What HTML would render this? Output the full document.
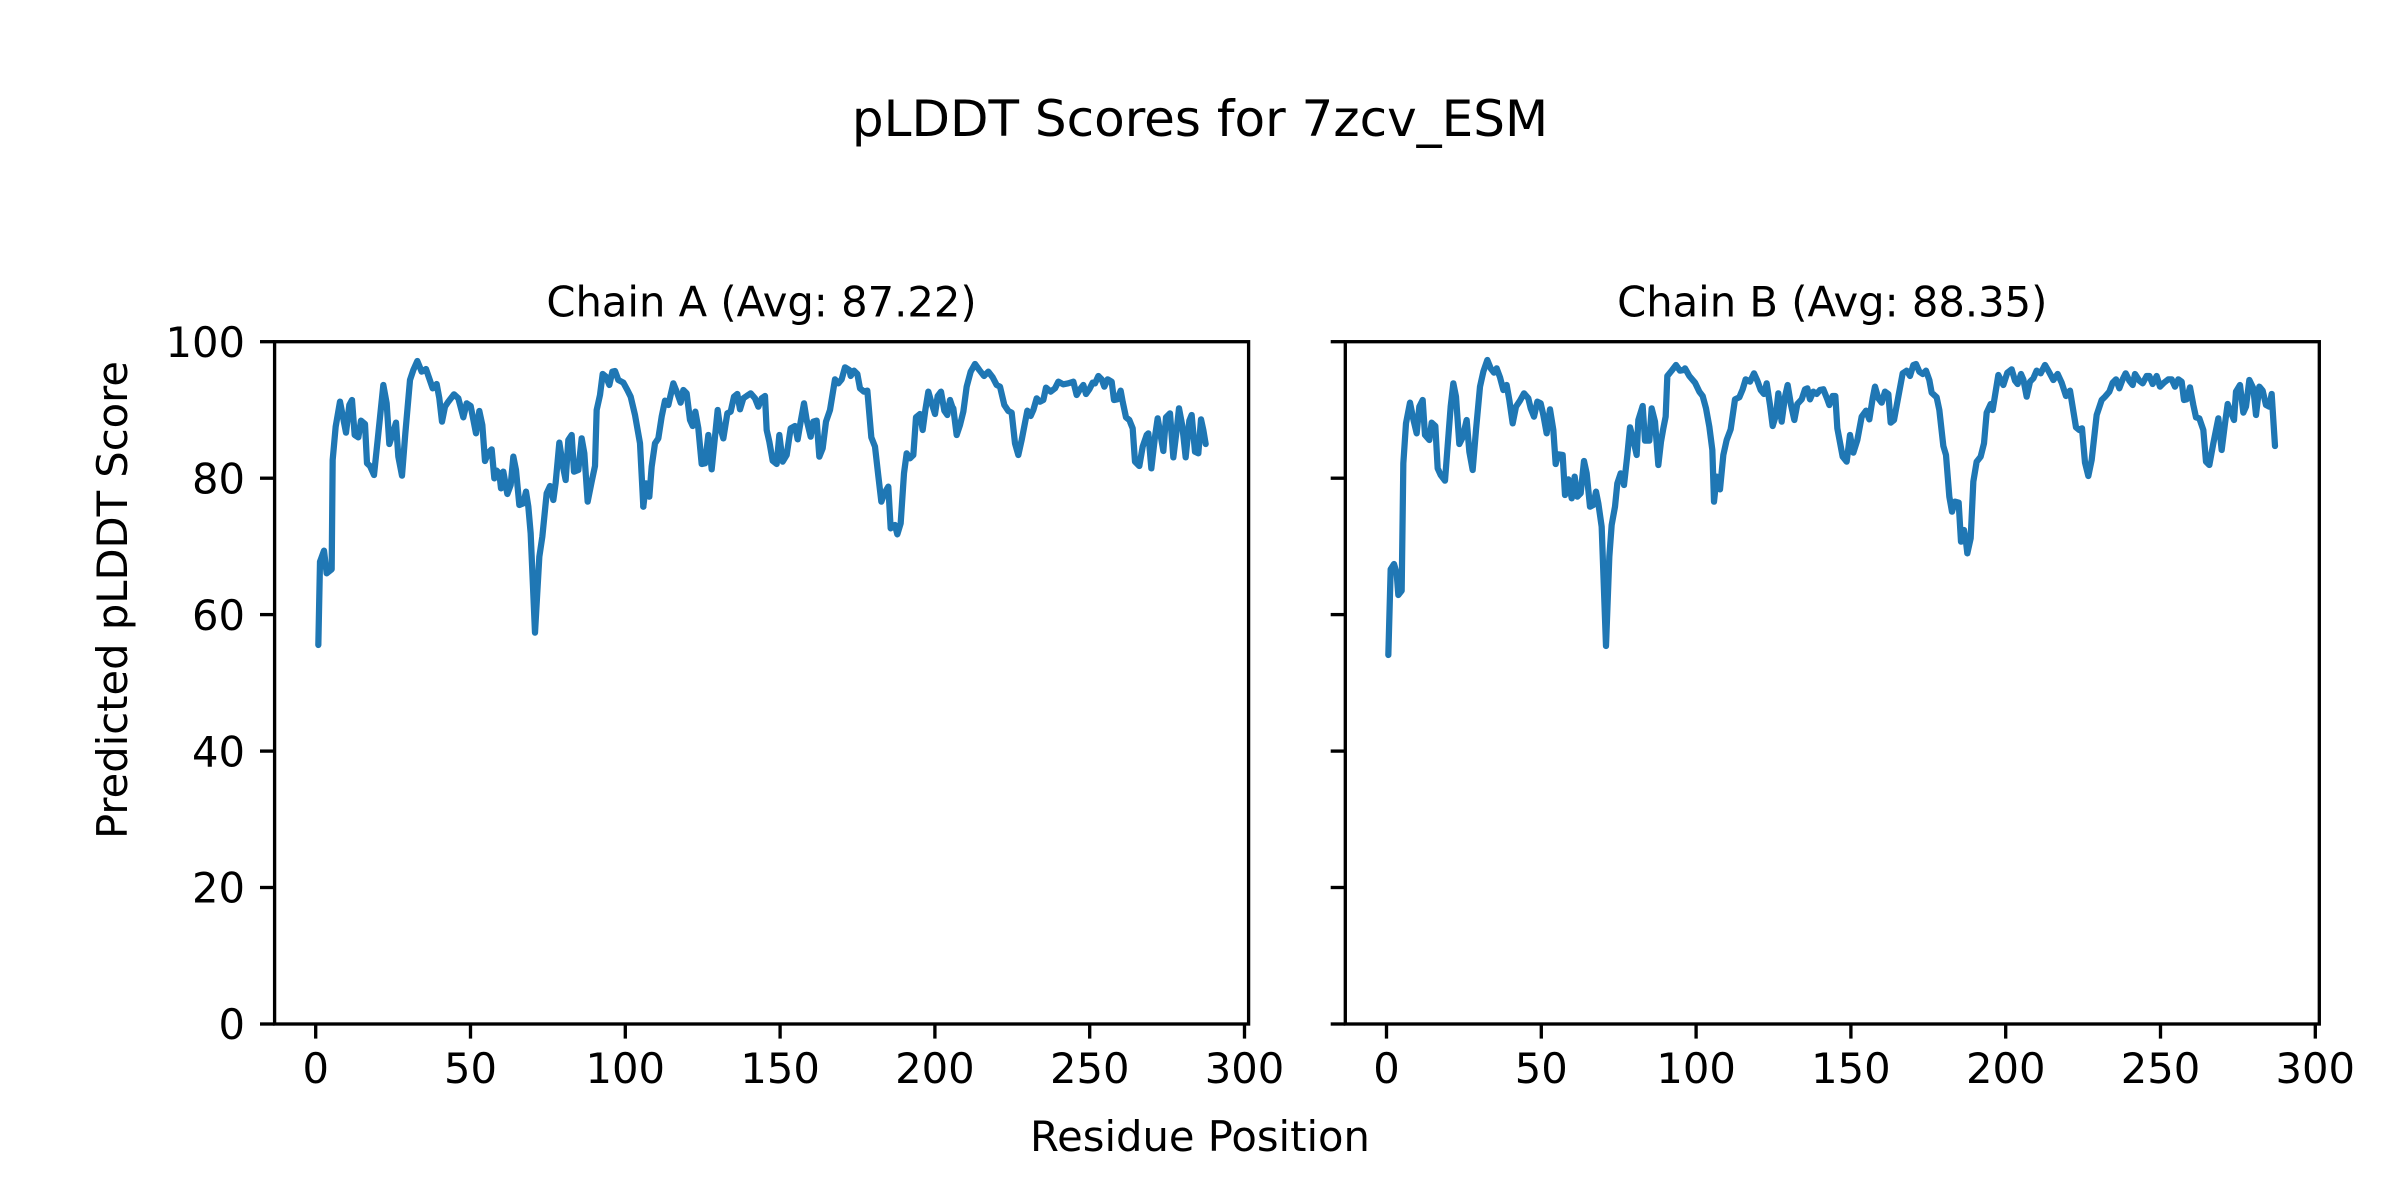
<!DOCTYPE html>
<html>
<head>
<meta charset="utf-8">
<style>
  html, body { margin: 0; padding: 0; background: #ffffff; }
  svg { display: block; }
  text { font-family: "DejaVu Sans", "Liberation Sans", sans-serif; fill: #000; }
</style>
</head>
<body>
<svg width="2400" height="1200" viewBox="0 0 2400 1200" xmlns="http://www.w3.org/2000/svg">
  <rect x="0" y="0" width="2400" height="1200" fill="#ffffff"/>

  <!-- Suptitle -->
  <text x="1200" y="136" font-size="50" text-anchor="middle">pLDDT Scores for 7zcv_ESM</text>

  <!-- Subplot titles -->
  <text x="761.5" y="316.7" font-size="41.67" text-anchor="middle">Chain A (Avg: 87.22)</text>
  <text x="1832.3" y="316.7" font-size="41.67" text-anchor="middle">Chain B (Avg: 88.35)</text>

  <!-- Sup labels -->
  <text x="1200" y="1151" font-size="41.67" text-anchor="middle">Residue Position</text>
  <text transform="translate(127,600) rotate(-90)" font-size="41.67" text-anchor="middle">Predicted pLDDT Score</text>

  <!-- ===== Left axes data ===== -->
  <g fill="none" stroke="#1f77b4" stroke-width="18.75" stroke-linejoin="round" stroke-linecap="round">
    <polyline transform="translate(150,300) scale(0.333333)" points="505,1035 510,785 522,752 530,820 545,808 548,480 557,380 570,305 588,398 598,315 606,300 614,405 625,412 633,362 645,372 651,490 660,498 672,525 683,420 700,255 710,310 718,432 727,405 738,368 745,470 756,527 766,400 780,240 790,210 802,183 815,215 828,207 848,265 860,252 868,295 876,365 885,320 895,305 912,283 925,295 940,352 950,310 962,318 978,400 988,333 997,375 1005,483 1015,458 1025,448 1033,535 1040,512 1048,520 1053,565 1060,515 1066,548 1072,582 1082,555 1090,470 1098,510 1108,615 1120,610 1128,575 1135,620 1142,700 1155,998 1168,770 1177,710 1190,580 1200,558 1210,600 1217,548 1228,428 1240,505 1247,540 1255,420 1265,405 1272,515 1285,510 1295,415 1303,460 1313,605 1325,545 1335,498 1340,330 1350,285 1358,222 1368,230 1378,255 1387,215 1395,213 1405,240 1420,248 1432,270 1442,290 1455,345 1470,430 1480,620"/>
    <polyline transform="translate(640,340) scale(0.333333)" points="10,500 18,430 28,470 35,380 45,310 55,295 65,230 75,182 85,195 100,130 112,160 122,188 130,150 140,160 150,240 158,258 166,215 175,265 185,372 195,370 205,285 215,388 225,290 233,210 240,260 250,295 262,220 272,215 282,170 292,162 300,208 310,175 320,168 332,160 345,175 355,200 365,175 375,168 380,270 388,305 398,362 410,372 418,285 428,365 440,345 452,265 465,258 473,298 482,245 492,190 500,240 512,290 520,245 530,242 538,350 548,325 558,245 570,210 585,118 595,130 605,118 615,82 628,90 632,108 642,92 652,102 660,145 672,155 682,152 694,292 705,320 715,408 724,485 733,460 745,440 752,565 765,555 772,583 782,550 792,400 800,340 810,355 820,345 828,232 840,222 848,270 856,210 865,155 875,190 885,222 893,168 903,155 913,212 922,225 930,180 940,210"/>
    <polyline transform="translate(940,340) scale(0.333333)" points="40,205 50,285 60,255 70,215 80,140 92,95 105,72 118,90 132,108 145,95 158,112 170,135 180,140 193,195 205,213 215,218 225,310 235,345 245,300 262,212 272,228 280,210 290,175 300,185 310,180 318,143 332,155 345,145 355,125 370,133 385,130 400,125 410,165 420,148 430,135 438,162 448,148 458,128 465,130 475,108 485,118 493,140 503,118 515,125 522,180 532,178 542,152 548,185 558,232 568,240 578,265 585,365 598,378 608,320 620,285 625,280 634,385 645,290 653,235 660,275 670,333 678,232 690,220 700,352 710,270 717,205 727,258 737,352 748,242 755,225 765,335 775,340 783,238 790,270 797,312"/>
  </g>

  <!-- ===== Right axes data ===== -->
  <g fill="none" stroke="#1f77b4" stroke-width="18.75" stroke-linejoin="round" stroke-linecap="round">
    <polyline transform="translate(1370,340) scale(0.333333)" points="55,945 62,688 72,672 80,700 85,765 95,752 100,370 108,250 120,188 130,238 140,280 148,200 158,180 165,285 178,300 185,248 196,258 203,385 212,405 225,422 232,330 242,200 250,130 258,170 268,312 278,292 290,240 298,335 308,390 318,270 330,140 340,95 352,60 362,85 372,98 380,85 390,112 400,150 410,135 418,180 428,250 438,200 450,182 462,160 475,175 482,205 492,230 502,185 512,190 520,225 530,280 540,208 550,270 557,372 565,343 578,345 585,465 595,418 605,475 614,410 622,470 632,460 642,363 650,400 660,500 670,495 678,455 685,490 695,560 708,918 718,650 725,555 735,500 742,430 752,400 762,435 772,345 780,262 790,300 800,345 805,240 818,198 825,302 838,302 845,205 855,245 865,375 873,305 880,265 887,230 892,108 905,92 918,75 930,92 940,90"/>
    <polyline transform="translate(1680,340) scale(0.333333)" points="15,85 28,108 45,128 58,155 68,168 78,205 88,260 97,330 102,485 110,410 120,448 130,345 140,300 152,268 165,178 178,172 188,148 197,118 210,125 222,100 232,122 242,150 252,162 260,130 270,195 278,258 288,225 295,160 305,245 315,170 323,135 333,195 343,240 352,192 365,178 375,148 382,145 390,178 400,155 410,162 420,150 430,148 442,178 448,195 458,168 466,168 472,265 488,350 500,365 510,285 520,338 532,300 545,230 558,212 568,238 578,175 585,140 595,175 605,188 615,155 625,162 632,248 642,240 655,170 668,100 680,92 690,108 700,75 708,72 718,95 728,102 738,92 748,120 755,158 770,172 778,210 790,318 798,345 808,470 816,515 825,485 836,488 843,605 852,570 858,605 862,640 872,595 880,425 890,365 902,350 912,310 920,218 932,192"/>
    <polyline transform="translate(1990,340) scale(0.333333)" points="8,210 25,105 40,135 52,98 65,88 75,122 83,132 93,102 100,118 110,170 120,125 130,115 140,92 152,100 165,75 175,92 190,120 203,102 215,128 228,168 240,152 258,262 268,270 276,265 285,368 295,408 305,360 320,225 335,180 345,170 358,155 368,128 378,118 388,145 398,118 407,100 418,122 428,135 435,102 448,122 458,130 470,108 478,108 488,132 500,108 510,140 522,128 535,118 545,118 555,140 565,118 575,125 582,180 590,178 600,142 610,195 618,232 628,235 640,270 648,365 658,375 670,310 685,235 695,330 705,250 713,192 722,215 732,240 738,155 750,135 760,218 768,200 778,120 790,145 798,225 808,140 818,152 828,195 838,200 845,162 855,318"/>
  </g>

  <!-- ===== Left axes frame, ticks, labels ===== -->
  <g stroke="#000" stroke-width="3.33" fill="none" stroke-linecap="square">
    <rect x="274.6" y="341.7" width="974" height="682.3"/>
  </g>
  <g stroke="#000" stroke-width="3.33">
    <!-- y ticks -->
    <line x1="260" y1="1024" x2="274.6" y2="1024"/>
    <line x1="260" y1="887.5" x2="274.6" y2="887.5"/>
    <line x1="260" y1="751.1" x2="274.6" y2="751.1"/>
    <line x1="260" y1="614.6" x2="274.6" y2="614.6"/>
    <line x1="260" y1="478.2" x2="274.6" y2="478.2"/>
    <line x1="260" y1="341.7" x2="274.6" y2="341.7"/>
    <!-- x ticks -->
    <line x1="315.7" y1="1024" x2="315.7" y2="1038.6"/>
    <line x1="470.5" y1="1024" x2="470.5" y2="1038.6"/>
    <line x1="625.3" y1="1024" x2="625.3" y2="1038.6"/>
    <line x1="780.1" y1="1024" x2="780.1" y2="1038.6"/>
    <line x1="934.9" y1="1024" x2="934.9" y2="1038.6"/>
    <line x1="1089.7" y1="1024" x2="1089.7" y2="1038.6"/>
    <line x1="1244.5" y1="1024" x2="1244.5" y2="1038.6"/>
  </g>
  <g font-size="41.67" text-anchor="end">
    <text x="245" y="1039.2">0</text>
    <text x="245" y="902.7">20</text>
    <text x="245" y="766.3">40</text>
    <text x="245" y="629.8">60</text>
    <text x="245" y="493.4">80</text>
    <text x="245" y="356.9">100</text>
  </g>
  <g font-size="41.67" text-anchor="middle">
    <text x="315.7" y="1083.2">0</text>
    <text x="470.5" y="1083.2">50</text>
    <text x="625.3" y="1083.2">100</text>
    <text x="780.1" y="1083.2">150</text>
    <text x="934.9" y="1083.2">200</text>
    <text x="1089.7" y="1083.2">250</text>
    <text x="1244.5" y="1083.2">300</text>
  </g>

  <!-- ===== Right axes frame, ticks, labels ===== -->
  <g stroke="#000" stroke-width="3.33" fill="none" stroke-linecap="square">
    <rect x="1345.3" y="341.7" width="974" height="682.3"/>
  </g>
  <g stroke="#000" stroke-width="3.33">
    <line x1="1330.7" y1="1024" x2="1345.3" y2="1024"/>
    <line x1="1330.7" y1="887.5" x2="1345.3" y2="887.5"/>
    <line x1="1330.7" y1="751.1" x2="1345.3" y2="751.1"/>
    <line x1="1330.7" y1="614.6" x2="1345.3" y2="614.6"/>
    <line x1="1330.7" y1="478.2" x2="1345.3" y2="478.2"/>
    <line x1="1330.7" y1="341.7" x2="1345.3" y2="341.7"/>
    <line x1="1386.5" y1="1024" x2="1386.5" y2="1038.6"/>
    <line x1="1541.3" y1="1024" x2="1541.3" y2="1038.6"/>
    <line x1="1696.1" y1="1024" x2="1696.1" y2="1038.6"/>
    <line x1="1850.9" y1="1024" x2="1850.9" y2="1038.6"/>
    <line x1="2005.7" y1="1024" x2="2005.7" y2="1038.6"/>
    <line x1="2160.5" y1="1024" x2="2160.5" y2="1038.6"/>
    <line x1="2315.3" y1="1024" x2="2315.3" y2="1038.6"/>
  </g>
  <g font-size="41.67" text-anchor="middle">
    <text x="1386.5" y="1083.2">0</text>
    <text x="1541.3" y="1083.2">50</text>
    <text x="1696.1" y="1083.2">100</text>
    <text x="1850.9" y="1083.2">150</text>
    <text x="2005.7" y="1083.2">200</text>
    <text x="2160.5" y="1083.2">250</text>
    <text x="2315.3" y="1083.2">300</text>
  </g>
</svg>
</body>
</html>
